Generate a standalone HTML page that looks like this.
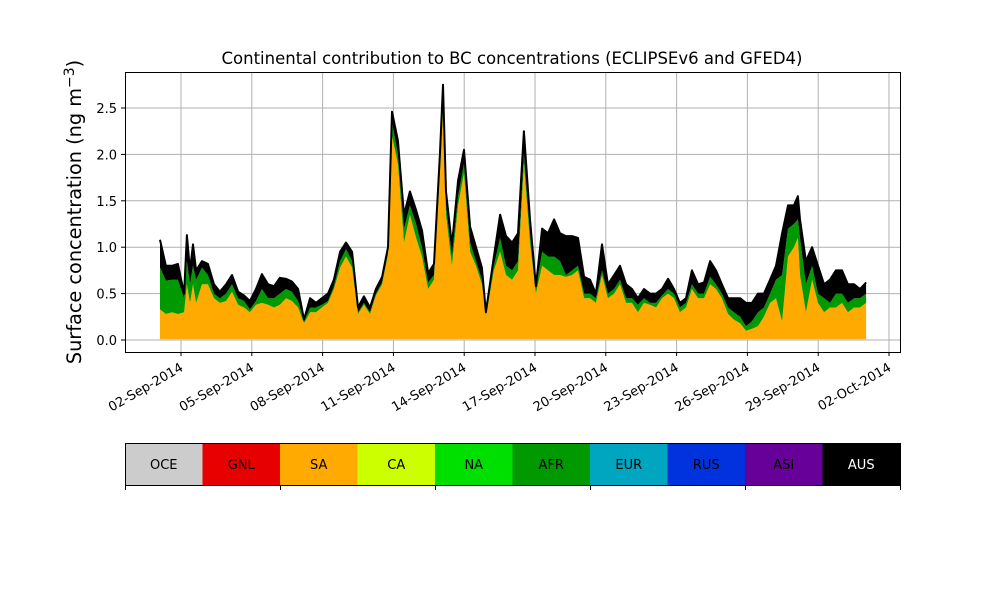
<!DOCTYPE html>
<html><head><meta charset="utf-8"><style>
body{margin:0;background:#fff;font-family:"Liberation Sans","DejaVu Sans",sans-serif}
svg text{font-family:"DejaVu Sans","Liberation Sans",sans-serif}
</style></head><body>
<svg id="chart" width="1000" height="600" xmlns="http://www.w3.org/2000/svg">
<rect width="1000" height="600" fill="#fff"/>
<g id="grid"></g>
<g id="areas"></g>
<rect x="125.5" y="72.5" width="775" height="280" fill="none" stroke="#000" stroke-width="1"/>
<g id="axes"></g>
<text x="512" y="64" text-anchor="middle" font-size="16.5">Continental contribution to BC concentrations (ECLIPSEv6 and GFED4)</text>
<text transform="translate(81,212) rotate(-90)" text-anchor="middle" font-size="19.3">Surface concentration (ng m<tspan dy="-7" font-size="14">−3</tspan><tspan dy="7">)</tspan></text>
<g id="legend"></g>
</svg>
<script>
const days=[1.11,1.36,1.62,1.87,2.13,2.25,2.38,2.51,2.64,2.89,3.14,3.40,3.65,3.91,4.16,4.42,4.67,4.92,5.18,5.43,5.69,5.94,6.19,6.45,6.70,6.96,7.21,7.47,7.72,7.97,8.23,8.48,8.74,8.99,9.25,9.50,9.75,10.01,10.26,10.52,10.77,10.94,11.19,11.45,11.70,11.96,12.21,12.47,12.72,12.97,13.10,13.23,13.48,13.74,13.99,14.25,14.50,14.75,14.92,15.09,15.26,15.52,15.77,16.03,16.28,16.53,16.79,17.04,17.30,17.55,17.81,18.06,18.31,18.57,18.82,19.08,19.33,19.58,19.84,20.09,20.35,20.60,20.86,21.11,21.36,21.62,21.87,22.13,22.38,22.64,22.89,23.14,23.40,23.65,23.91,24.16,24.42,24.67,24.92,25.18,25.43,25.69,25.94,26.19,26.45,26.70,26.96,27.21,27.47,27.72,27.97,28.14,28.23,28.48,28.74,28.99,29.25,29.50,29.75,30.01,30.26,30.52,30.77,31.03];
// cumulative stack levels
const ausTop=[1.08,.80,.80,.82,.50,1.13,.75,1.03,.75,.85,.82,.60,.52,.60,.70,.52,.48,.42,.55,.71,.60,.58,.67,.66,.63,.55,.22,.45,.40,.45,.50,.65,.95,1.05,.95,.35,.47,.35,.55,.68,1.00,2.46,2.15,1.35,1.6,1.4,1.18,.72,.82,2.0,2.75,1.6,1.02,1.72,2.05,1.22,1.0,.78,.30,.6,.9,1.35,1.12,1.05,1.15,2.25,1.3,.58,1.2,1.15,1.3,1.15,1.12,1.12,1.1,.68,.65,.5,1.03,.6,.7,.8,.6,.55,.45,.55,.5,.5,.55,.66,.55,.4,.45,.75,.6,.62,.85,.75,.6,.45,.45,.45,.4,.4,.5,.5,.65,.8,1.15,1.45,1.45,1.55,1.3,.85,1.0,.8,.6,.65,.75,.75,.6,.6,.55,.62];
const afrTop=[.78,.64,.65,.65,.45,.85,.60,.80,.65,.78,.70,.50,.45,.50,.60,.45,.42,.33,.42,.55,.45,.45,.50,.55,.52,.42,.20,.35,.35,.38,.42,.58,.85,.98,.85,.30,.40,.30,.50,.62,.95,2.35,2.0,1.2,1.45,1.25,1.0,.62,.70,1.9,2.55,1.45,.9,1.55,1.9,1.05,.85,.65,.28,.55,.8,1.1,.8,.75,.85,2.0,1.15,.55,.95,.9,.9,.85,.7,.75,.8,.5,.5,.45,.75,.5,.55,.65,.45,.45,.38,.45,.4,.4,.48,.55,.5,.35,.4,.6,.5,.5,.68,.6,.5,.35,.3,.25,.15,.2,.3,.35,.5,.65,.7,1.2,1.25,1.3,1.1,.6,.8,.5,.45,.4,.5,.5,.4,.45,.45,.5];
const saTop=[.33,.28,.30,.28,.30,.60,.40,.60,.40,.60,.60,.45,.40,.42,.52,.38,.35,.30,.38,.40,.38,.35,.38,.45,.42,.35,.18,.30,.30,.35,.40,.55,.78,.90,.78,.28,.38,.28,.48,.60,.92,2.2,1.9,1.05,1.35,1.1,.9,.55,.65,1.8,2.45,1.35,.8,1.45,1.8,.95,.8,.6,.26,.5,.75,.95,.7,.65,.75,1.9,1.05,.5,.8,.75,.7,.7,.68,.7,.75,.45,.45,.4,.7,.45,.5,.6,.4,.4,.3,.4,.38,.35,.45,.5,.45,.3,.35,.55,.45,.45,.6,.55,.45,.28,.22,.18,.1,.12,.15,.25,.4,.45,.2,.9,1.0,1.1,.7,.3,.65,.4,.3,.35,.35,.4,.3,.35,.35,.4];
const yTicks=[0,0.5,1.0,1.5,2.0,2.5];
const xTickDays=[2,5,8,11,14,17,20,23,26,29,32];
const xTickLabels=["02-Sep-2014","05-Sep-2014","08-Sep-2014","11-Sep-2014","14-Sep-2014","17-Sep-2014","20-Sep-2014","23-Sep-2014","26-Sep-2014","29-Sep-2014","02-Oct-2014"];
const regions=["OCE","GNL","SA","CA","NA","AFR","EUR","RUS","ASI","AUS"];
const regionColors=["#cccccc","#e60000","#ffaa00","#ccff00","#00e000","#009900","#00a5bf","#0033dd","#660099","#000000"];

(function(){
const NS="http://www.w3.org/2000/svg";
const N=Math.min(days.length,ausTop.length,afrTop.length,saTop.length);
const X=d=>181+(d-2)*23.6;
const Y=v=>340-v*92.8;
function mk(tag,attrs,parent){const e=document.createElementNS(NS,tag);for(const k in attrs)e.setAttribute(k,attrs[k]);parent.appendChild(e);return e;}
const grid=document.getElementById('grid'),axes=document.getElementById('axes'),areas=document.getElementById('areas'),legend=document.getElementById('legend');
yTicks.forEach(v=>{
  const l=mk('line',{x1:125,x2:900,y1:Y(v),y2:Y(v),stroke:'#b0b0b0','stroke-width':1},grid);
  
  
  mk('line',{x1:121,x2:125,y1:Y(v),y2:Y(v),stroke:'#000'},axes);
  const t=mk('text',{x:117,y:Y(v)+5,'text-anchor':'end','font-size':13},axes);
  t.textContent=v.toFixed(1);
  
  
});
xTickDays.forEach((d,i)=>{
  const l=mk('line',{x1:X(d),x2:X(d),y1:72,y2:352,stroke:'#b0b0b0','stroke-width':1},grid);
  
  
  mk('line',{x1:X(d),x2:X(d),y1:352,y2:356,stroke:'#000'},axes);
  const t=mk('text',{x:0,y:0,'text-anchor':'end','font-size':13,transform:`translate(${X(d)+3},${370}) rotate(-30)`},axes);
  t.textContent=xTickLabels[i];
  
  
});
function band(lower,upper,color,name){
  let p='M'+X(days[0])+','+Y(upper[0]);
  for(let i=1;i<N;i++)p+='L'+X(days[i]).toFixed(1)+','+Y(upper[i]).toFixed(1);
  for(let i=N-1;i>=0;i--)p+='L'+X(days[i]).toFixed(1)+','+Y(lower?lower[i]:0).toFixed(1);
  const e=mk('path',{d:p+'Z',fill:color},areas);
  
  
}
band(null,saTop,'#ffaa00','area-sa');
band(saTop,afrTop,'#009900','area-afr');
band(afrTop,ausTop,'#000000','area-aus');
let tp='M'+X(days[0])+','+Y(ausTop[0]);
for(let i=1;i<N;i++)tp+='L'+X(days[i]).toFixed(1)+','+Y(ausTop[i]).toFixed(1);
const outline=mk('path',{d:tp,fill:'none',stroke:'#000','stroke-width':2,'stroke-linejoin':'round'},areas);


const oce=mk('rect',{x:X(days[0]),y:Y(0.012),width:X(days[N-1])-X(days[0]),height:1.2,fill:'#cccccc'},areas);


const cw=77.5;
regions.forEach((r,i)=>{
  const rc=mk('rect',{x:125+i*cw,y:443,width:cw+0.5,height:42,fill:regionColors[i]},legend);
  
  
  const t=mk('text',{x:125+i*cw+cw/2,y:469,'text-anchor':'middle','font-size':13,fill:r==='AUS'?'#fff':'#000'},legend);
  t.textContent=r;
  
  
});
mk('rect',{x:125.5,y:443.5,width:775,height:42,fill:'none',stroke:'#000'},legend);
for(let i=0;i<=5;i++)mk('line',{x1:125.5+i*155,x2:125.5+i*155,y1:485,y2:490,stroke:'#000'},legend);
})();
</script>
</body></html>
